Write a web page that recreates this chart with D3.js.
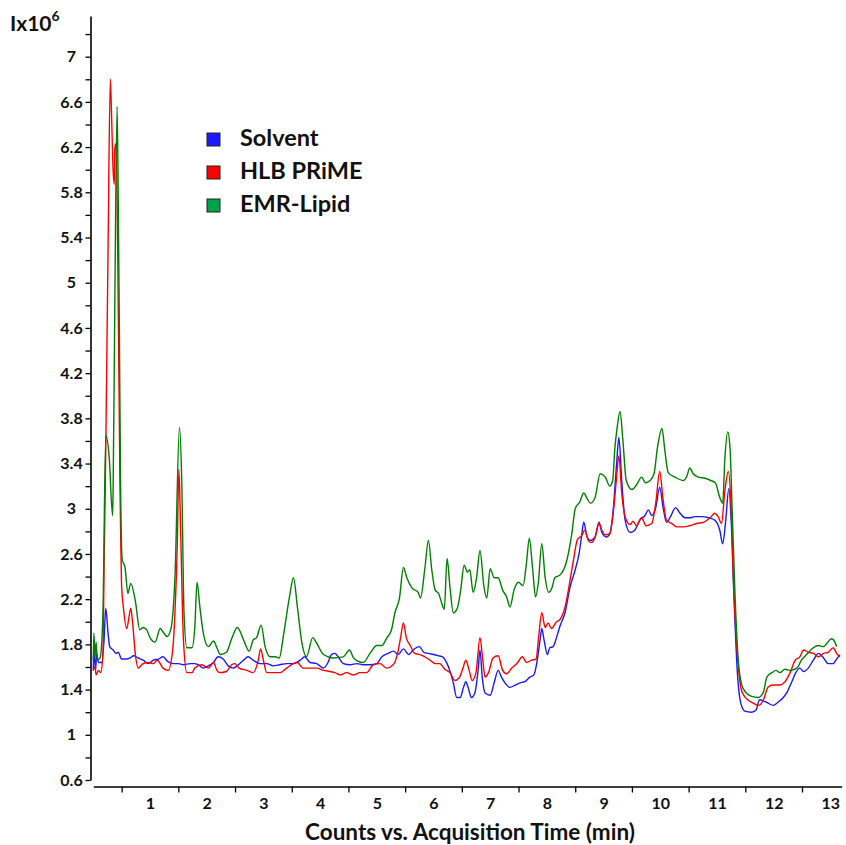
<!DOCTYPE html>
<html><head><meta charset="utf-8">
<script src="https://cdn.jsdelivr.net/npm/d3@7"></script>
<style>
body{margin:0;background:#fff}
svg{display:block}
text{font-family:Lato,"Open Sans",sans-serif;font-weight:bold;fill:#111}
</style>
</head><body>
<svg id="chart" width="846" height="845"></svg>
<script>
// ---- data (time in min, intensity in 10^6 counts) ----
const seriesNames = ["Solvent", "HLB PRiME", "EMR-Lipid"];

const solvent = [[0.00,1.57],[0.01,1.78],[0.04,1.57],[0.06,1.72],[0.09,1.64],[0.15,1.64],[0.19,1.84],[0.22,2.12],[0.26,1.90],[0.29,1.78],[0.35,1.75],[0.40,1.72],[0.44,1.73],[0.50,1.67],[0.59,1.67],[0.65,1.68],[0.71,1.70],[0.79,1.68],[0.88,1.66],[0.97,1.63],[1.06,1.66],[1.15,1.67],[1.23,1.69],[1.31,1.65],[1.41,1.63],[1.50,1.63],[1.59,1.62],[1.71,1.63],[1.79,1.63],[1.85,1.62],[1.94,1.59],[2.03,1.61],[2.12,1.64],[2.20,1.69],[2.29,1.67],[2.38,1.61],[2.47,1.59],[2.56,1.62],[2.65,1.66],[2.73,1.69],[2.82,1.66],[2.94,1.63],[3.06,1.63],[3.17,1.61],[3.29,1.62],[3.41,1.63],[3.53,1.63],[3.65,1.66],[3.73,1.69],[3.82,1.64],[3.94,1.63],[4.06,1.59],[4.14,1.64],[4.20,1.71],[4.26,1.72],[4.32,1.69],[4.41,1.63],[4.53,1.62],[4.65,1.63],[4.76,1.62],[4.88,1.62],[5.00,1.63],[5.09,1.69],[5.20,1.72],[5.29,1.74],[5.38,1.71],[5.47,1.76],[5.56,1.71],[5.64,1.75],[5.75,1.78],[5.83,1.73],[5.91,1.72],[6.00,1.71],[6.08,1.70],[6.16,1.69],[6.24,1.63],[6.30,1.55],[6.35,1.46],[6.41,1.33],[6.47,1.33],[6.53,1.42],[6.57,1.47],[6.61,1.42],[6.67,1.33],[6.73,1.37],[6.79,1.59],[6.82,1.75],[6.86,1.51],[6.91,1.37],[7.00,1.35],[7.07,1.46],[7.14,1.57],[7.20,1.51],[7.26,1.46],[7.35,1.42],[7.44,1.44],[7.53,1.46],[7.61,1.47],[7.70,1.51],[7.77,1.53],[7.82,1.63],[7.88,1.84],[7.91,1.94],[7.95,1.84],[8.01,1.71],[8.05,1.77],[8.11,1.78],[8.17,1.86],[8.23,1.96],[8.32,2.08],[8.41,2.31],[8.50,2.46],[8.57,2.61],[8.61,2.75],[8.65,2.88],[8.71,2.75],[8.77,2.72],[8.85,2.75],[8.92,2.88],[8.97,2.79],[9.05,2.75],[9.11,2.78],[9.17,2.99],[9.23,3.40],[9.27,3.63],[9.32,3.25],[9.38,2.90],[9.47,2.79],[9.55,2.81],[9.64,2.90],[9.73,2.94],[9.79,2.99],[9.85,2.94],[9.92,3.01],[9.99,3.19],[10.05,3.01],[10.11,2.88],[10.18,2.93],[10.27,3.01],[10.35,2.96],[10.44,2.92],[10.52,2.92],[10.61,2.93],[10.73,2.93],[10.85,2.92],[10.96,2.90],[11.05,2.81],[11.10,2.69],[11.15,2.87],[11.21,3.18],[11.25,2.90],[11.30,2.22],[11.36,1.55],[11.42,1.28],[11.49,1.21],[11.61,1.20],[11.69,1.22],[11.75,1.31],[11.82,1.30],[11.90,1.28],[11.99,1.26],[12.08,1.29],[12.17,1.33],[12.24,1.38],[12.32,1.47],[12.39,1.55],[12.46,1.59],[12.53,1.56],[12.61,1.59],[12.70,1.66],[12.79,1.72],[12.88,1.68],[12.96,1.63],[13.05,1.63],[13.11,1.67],[13.17,1.71]];

const hlbPrime = [[0.00,1.57],[0.03,1.60],[0.05,1.53],[0.09,1.57],[0.13,1.55],[0.17,1.72],[0.19,2.48],[0.22,3.54],[0.26,5.29],[0.30,6.80],[0.32,6.52],[0.35,5.99],[0.37,5.87],[0.38,6.19],[0.40,6.23],[0.42,5.73],[0.44,4.80],[0.47,3.23],[0.48,2.87],[0.50,2.31],[0.53,2.13],[0.59,1.94],[0.62,2.01],[0.66,2.12],[0.69,2.01],[0.74,1.72],[0.79,1.59],[0.88,1.63],[0.97,1.64],[1.06,1.63],[1.13,1.66],[1.23,1.59],[1.32,1.57],[1.40,1.75],[1.44,2.08],[1.48,2.66],[1.51,3.35],[1.54,2.81],[1.59,1.84],[1.65,1.55],[1.74,1.55],[1.79,1.59],[1.91,1.62],[2.03,1.59],[2.12,1.64],[2.18,1.57],[2.23,1.55],[2.35,1.56],[2.44,1.62],[2.50,1.63],[2.57,1.59],[2.71,1.57],[2.82,1.55],[2.91,1.66],[2.95,1.76],[3.00,1.66],[3.06,1.55],[3.17,1.55],[3.29,1.55],[3.41,1.59],[3.53,1.63],[3.60,1.64],[3.70,1.59],[3.82,1.59],[3.94,1.59],[4.06,1.57],[4.17,1.56],[4.26,1.55],[4.35,1.53],[4.47,1.55],[4.59,1.53],[4.70,1.55],[4.82,1.55],[4.94,1.62],[5.06,1.63],[5.17,1.59],[5.29,1.62],[5.38,1.75],[5.42,1.86],[5.47,1.99],[5.52,1.86],[5.59,1.79],[5.67,1.72],[5.76,1.71],[5.85,1.69],[5.94,1.66],[6.03,1.63],[6.11,1.63],[6.20,1.58],[6.29,1.55],[6.38,1.48],[6.46,1.51],[6.52,1.59],[6.57,1.66],[6.63,1.57],[6.68,1.48],[6.75,1.55],[6.82,1.86],[6.87,1.66],[6.91,1.51],[6.97,1.55],[7.05,1.68],[7.14,1.70],[7.22,1.57],[7.29,1.54],[7.38,1.59],[7.47,1.63],[7.57,1.69],[7.64,1.64],[7.73,1.66],[7.81,1.67],[7.85,1.84],[7.91,2.08],[7.97,1.95],[8.02,1.99],[8.08,1.94],[8.17,2.00],[8.23,2.02],[8.32,2.13],[8.41,2.37],[8.47,2.55],[8.54,2.73],[8.61,2.76],[8.67,2.81],[8.73,2.72],[8.79,2.70],[8.85,2.75],[8.92,2.87],[8.97,2.81],[9.03,2.77],[9.11,2.78],[9.17,2.96],[9.23,3.28],[9.27,3.47],[9.32,3.14],[9.38,2.93],[9.47,2.86],[9.52,2.89],[9.58,2.85],[9.67,2.92],[9.75,2.85],[9.85,2.87],[9.92,3.05],[9.99,3.33],[10.05,3.08],[10.11,2.90],[10.20,2.87],[10.29,2.84],[10.41,2.84],[10.52,2.85],[10.64,2.87],[10.76,2.88],[10.88,2.92],[10.96,2.96],[11.02,2.93],[11.08,2.87],[11.14,3.16],[11.20,3.33],[11.25,3.01],[11.29,2.37],[11.35,1.78],[11.44,1.38],[11.52,1.32],[11.64,1.28],[11.73,1.26],[11.82,1.31],[11.90,1.42],[11.99,1.44],[12.11,1.44],[12.20,1.47],[12.29,1.55],[12.38,1.66],[12.46,1.69],[12.53,1.75],[12.61,1.73],[12.70,1.72],[12.79,1.69],[12.88,1.72],[12.96,1.73],[13.05,1.77],[13.11,1.72],[13.17,1.69]];

const emrLipid = [[0.00,1.66],[0.01,1.90],[0.03,1.69],[0.05,1.82],[0.07,1.66],[0.12,1.68],[0.17,2.08],[0.22,3.65],[0.28,3.46],[0.34,2.94],[0.35,3.19],[0.38,4.84],[0.42,6.56],[0.44,5.73],[0.46,4.58],[0.48,3.25],[0.51,2.55],[0.56,2.48],[0.61,2.25],[0.66,2.34],[0.74,2.19],[0.82,1.93],[0.88,1.95],[0.94,1.93],[1.00,1.86],[1.09,1.82],[1.18,1.94],[1.23,1.91],[1.30,1.87],[1.37,1.94],[1.44,2.39],[1.52,3.72],[1.56,3.25],[1.60,2.08],[1.65,1.77],[1.74,1.77],[1.79,1.95],[1.83,2.35],[1.88,2.13],[1.94,1.90],[2.03,1.78],[2.12,1.83],[2.18,1.77],[2.24,1.71],[2.35,1.73],[2.44,1.85],[2.54,1.95],[2.65,1.84],[2.75,1.74],[2.82,1.84],[2.88,1.86],[2.96,1.97],[3.03,1.78],[3.12,1.69],[3.21,1.69],[3.28,1.68],[3.36,1.90],[3.46,2.22],[3.53,2.39],[3.60,2.13],[3.68,1.81],[3.76,1.69],[3.87,1.86],[3.94,1.81],[4.06,1.71],[4.23,1.68],[4.41,1.69],[4.52,1.75],[4.59,1.68],[4.76,1.64],[4.88,1.72],[5.00,1.79],[5.09,1.79],[5.18,1.86],[5.26,1.93],[5.32,2.08],[5.40,2.21],[5.47,2.48],[5.53,2.39],[5.62,2.30],[5.73,2.26],[5.77,2.21],[5.85,2.48],[5.91,2.72],[5.97,2.46],[6.03,2.28],[6.09,2.25],[6.13,2.19],[6.19,2.11],[6.24,2.56],[6.29,2.31],[6.35,2.08],[6.42,2.12],[6.48,2.28],[6.54,2.50],[6.60,2.44],[6.64,2.46],[6.70,2.26],[6.76,2.39],[6.82,2.63],[6.89,2.31],[6.94,2.21],[7.00,2.47],[7.07,2.39],[7.14,2.39],[7.22,2.28],[7.29,2.22],[7.35,2.13],[7.42,2.28],[7.50,2.35],[7.58,2.32],[7.64,2.52],[7.69,2.74],[7.75,2.46],[7.80,2.22],[7.85,2.35],[7.91,2.69],[7.97,2.39],[8.03,2.26],[8.09,2.30],[8.14,2.39],[8.22,2.41],[8.26,2.43],[8.35,2.54],[8.44,2.78],[8.50,3.00],[8.58,3.06],[8.65,3.14],[8.71,3.09],[8.77,3.05],[8.85,3.10],[8.94,3.31],[9.03,3.28],[9.11,3.20],[9.16,3.25],[9.20,3.54],[9.24,3.72],[9.29,3.86],[9.34,3.61],[9.40,3.25],[9.50,3.17],[9.58,3.21],[9.67,3.28],[9.74,3.23],[9.82,3.25],[9.89,3.31],[9.95,3.54],[10.03,3.71],[10.08,3.52],[10.14,3.32],[10.26,3.28],[10.41,3.25],[10.47,3.29],[10.52,3.36],[10.58,3.31],[10.67,3.28],[10.79,3.27],[10.89,3.25],[10.97,3.23],[11.05,3.10],[11.10,3.05],[11.14,3.45],[11.19,3.68],[11.23,3.54],[11.27,2.96],[11.32,2.22],[11.38,1.63],[11.46,1.41],[11.61,1.34],[11.73,1.33],[11.82,1.38],[11.88,1.51],[11.97,1.55],[12.04,1.57],[12.11,1.55],[12.20,1.58],[12.29,1.57],[12.41,1.59],[12.49,1.66],[12.58,1.71],[12.70,1.77],[12.79,1.79],[12.88,1.78],[12.94,1.81],[13.02,1.85],[13.08,1.82],[13.11,1.78]];

const yTickLabels = [0.6, 1, 1.4, 1.8, 2.2, 2.6, 3, 3.4, 3.8, 4.2, 4.6, 5, 5.4, 5.8, 6.2, 6.6, 7];
const yMinorTicks = [0.8, 1.2, 1.6, 2, 2.4, 2.8, 3.2, 3.6, 4, 4.4, 4.8, 5.2, 5.6, 6, 6.4, 6.8, 7.2];
const xTickLabels = [1, 2, 3, 4, 5, 6, 7, 8, 9, 10, 11, 12, 13];
const xMinorTicks = [0.5, 1.5, 2.5, 3.5, 4.5, 5.5, 6.5, 7.5, 8.5, 9.5, 10.5, 11.5, 12.5];

// ---- styles ----
const lineColors = ["#1a1aff", "#ff0000", "#007f00"];
const legendColors = ["#1a1aff", "#ff0000", "#00a24a"];
const tickFont = "16px";

const svg = d3.select("#chart");

const x = d3.scaleLinear().domain([0, 13.2]).range([93.3, 841.7]);
const y = d3.scaleLinear().domain([0.6, 7.36]).range([780, 16]);

// y axis
const yAxisG = svg.append("g").attr("transform", "translate(90.5,0)");
yAxisG.call(d3.axisLeft(y)
  .tickValues(yTickLabels.concat(yMinorTicks))
  .tickSize(5).tickSizeOuter(0)
  .tickFormat(d => yTickLabels.includes(d) ? d3.format("")(d) : ""));
yAxisG.selectAll("path.domain").attr("stroke", "#000").attr("stroke-width", 1.6);
yAxisG.selectAll(".tick line").attr("stroke", "#000").attr("stroke-width", 1.3);
yAxisG.selectAll(".tick text")
  .attr("x", -19).attr("text-anchor", "middle")
  .style("font-size", tickFont).style("font-family", "Lato, 'Open Sans', sans-serif")
  .style("font-weight", "bold").attr("fill", "#111");

// x axis
const xAxisG = svg.append("g").attr("transform", "translate(0,786.5)");
xAxisG.call(d3.axisBottom(x).tickValues(xMinorTicks).tickSize(6).tickSizeOuter(0).tickFormat(""));
xAxisG.selectAll("path.domain").attr("stroke", "#000").attr("stroke-width", 1.6);
xAxisG.selectAll(".tick line").attr("stroke", "#000").attr("stroke-width", 1.3);
const xLabG = svg.append("g").attr("transform", "translate(0,786.5)");
xLabG.call(d3.axisBottom(x).tickValues(xTickLabels).tickSize(0).tickPadding(11).tickFormat(d3.format("")));
xLabG.select("path.domain").remove();
xLabG.selectAll(".tick text")
  .style("font-size", tickFont).style("font-family", "Lato, 'Open Sans', sans-serif")
  .style("font-weight", "bold").attr("fill", "#111");

// series lines
const line = d3.line().x(d => x(d[0])).y(d => y(d[1])).curve(d3.curveMonotoneX);
const allSeries = [solvent, hlbPrime, emrLipid];
svg.append("g").selectAll("path").data(allSeries).join("path")
  .attr("d", line)
  .attr("fill", "none")
  .attr("stroke", (d, i) => lineColors[i])
  .attr("stroke-width", 1.4)
  .attr("stroke-linejoin", "round");

// legend
const leg = svg.append("g").selectAll("g").data(seriesNames).join("g")
  .attr("transform", (d, i) => `translate(207,${133 + i * 33})`);
leg.append("rect").attr("x", 0).attr("y", 0).attr("width", 13).attr("height", 13)
  .attr("fill", (d, i) => legendColors[i]).attr("stroke", "#222").attr("stroke-width", 1);
leg.append("text").attr("x", 33).attr("y", 13).text(d => d)
  .style("font-size", "23.5px");

// y unit label
const yl = svg.append("text").attr("x", 10).attr("y", 31).style("font-size", "21px");
yl.append("tspan").text("Ix10");
yl.append("tspan").attr("dy", -10).style("font-size", "14px").text("6");

// x title
svg.append("text").attr("x", 470).attr("y", 840).attr("text-anchor", "middle")
  .style("font-size", "22.5px").text("Counts vs. Acquisition Time (min)");
</script>
</body></html>
